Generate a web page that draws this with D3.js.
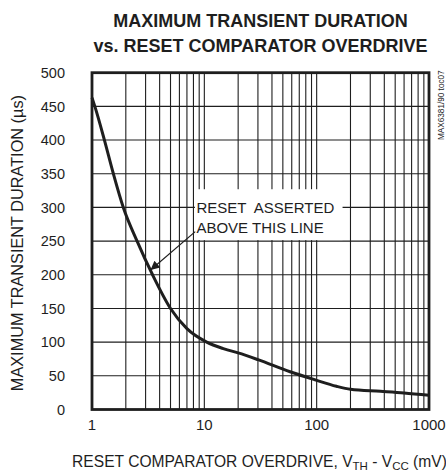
<!DOCTYPE html>
<html><head><meta charset="utf-8">
<script src="https://cdn.jsdelivr.net/npm/d3@7"></script>
<style>body{margin:0;background:#fff}svg{display:block}</style>
</head><body><svg id="c" width="446" height="470"></svg>
<script>
// ---- data ----
const overdrive = [1, 1.06, 1.29, 1.55, 1.9, 2.52, 3.46, 5, 7, 10.5, 15, 20, 30, 58, 97, 150, 200, 370, 600, 1000];
const duration  = [463, 450, 400, 350, 300, 250, 200, 150, 120, 100, 90, 84, 74, 56, 44, 34.5, 30, 27, 24.5, 21];
const xTicks = [1, 10, 100, 1000];
const yTicks = [0, 50, 100, 150, 200, 250, 300, 350, 400, 450, 500];
const titleLines = ["MAXIMUM TRANSIENT DURATION", "vs. RESET COMPARATOR OVERDRIVE"];
const yTitle = "MAXIMUM TRANSIENT DURATION (µs)";
const noteLines = ["RESET  ASSERTED", "ABOVE THIS LINE"];
const watermark = "MAX6381/90 toc07";

// ---- layout ----
const L = 92, R = 429, T = 72.7, B = 409.5;
const svg = d3.select("#c");
const FONT = "'Liberation Sans', Arial, Helvetica, sans-serif";
const ink = "#1e1e1e";

const x = d3.scaleLog().domain([1, 1000]).range([L, R]);
const y = d3.scaleLinear().domain([0, 500]).range([B, T]);

// grid
const minor = [];
for (let d = 1; d < 1000; d *= 10) for (let k = 1; k < 10; k++) minor.push(k * d);
minor.push(1000);
const g = svg.append("g").attr("stroke", ink).attr("stroke-width", 1.1);
g.selectAll("line.v").data(minor).join("line").attr("class", "v")
  .attr("x1", d => x(d)).attr("x2", d => x(d)).attr("y1", T).attr("y2", B);
g.selectAll("line.h").data(yTicks).join("line").attr("class", "h")
  .attr("x1", L).attr("x2", R).attr("y1", d => y(d)).attr("y2", d => y(d));

// annotation box (white, hides grid)
svg.append("rect").attr("x", x(8.25)).attr("y", y(327)).attr("width", x(170) - x(8.25))
  .attr("height", y(250) - y(327) - 1).attr("fill", "#fff");

// frame
svg.append("rect").attr("x", L).attr("y", T).attr("width", R - L).attr("height", B - T)
  .attr("fill", "none").attr("stroke", ink).attr("stroke-width", 2.8);

// curve
const line = d3.line().x((d, i) => x(overdrive[i])).y(d => y(d)).curve(d3.curveMonotoneX);
svg.append("path").datum(duration).attr("d", line).attr("fill", "none")
  .attr("stroke", ink).attr("stroke-width", 3).attr("stroke-linejoin", "round");

// axes tick labels
svg.append("g").selectAll("text").data(yTicks).join("text")
  .attr("x", 65).attr("y", d => y(d) + 5.3).attr("text-anchor", "end")
  .attr("font-family", FONT).attr("font-size", 14.5).attr("fill", ink).text(d => d);
svg.append("g").selectAll("text").data(xTicks).join("text")
  .attr("x", d => x(d)).attr("y", 430).attr("text-anchor", "middle")
  .attr("font-family", FONT).attr("font-size", 15).attr("fill", ink).text(d => d);

// title
svg.append("g").selectAll("text").data(titleLines).join("text")
  .attr("x", (L + R) / 2).attr("y", (d, i) => 26.5 + i * 25.5).attr("text-anchor", "middle")
  .attr("font-family", FONT).attr("font-weight", "bold").attr("font-size", 18).attr("fill", ink)
  .text(d => d);

// y title
svg.append("text").attr("transform", `translate(23,${(T + B) / 2 + 2}) rotate(-90)`)
  .attr("text-anchor", "middle").attr("font-family", FONT).attr("font-size", 16.3)
  .attr("fill", ink).text(yTitle);

// x title with subscripts
const xt = svg.append("text").attr("x", (L + R) / 2 - 1).attr("y", 466.5).attr("text-anchor", "middle")
  .attr("font-family", FONT).attr("font-size", 15.6).attr("fill", ink);
xt.append("tspan").text("RESET COMPARATOR OVERDRIVE, V");
xt.append("tspan").attr("font-size", 11.5).attr("dy", 3).text("TH");
xt.append("tspan").attr("dy", -3).text(" - V");
xt.append("tspan").attr("font-size", 11.5).attr("dy", 3).text("CC");
xt.append("tspan").attr("dy", -3).text(" (mV)");

// annotation text
svg.append("g").selectAll("text").data(noteLines).join("text")
  .attr("x", x(8.5)).attr("y", (d, i) => y(300) + 5.5 + i * 20)
  .attr("font-family", FONT).attr("font-size", 15).attr("fill", ink)
  .attr("xml:space", "preserve").style("white-space", "pre").text(d => d);

// arrow
const defs = svg.append("defs");
defs.append("marker").attr("id", "ah").attr("viewBox", "0 0 10 10").attr("refX", 10).attr("refY", 5)
  .attr("markerWidth", 14).attr("markerHeight", 9).attr("markerUnits", "userSpaceOnUse")
  .attr("orient", "auto").append("path").attr("d", "M0,0 L10,5 L0,10 Z").attr("fill", ink);
svg.append("line").attr("x1", x(8.3)).attr("y1", y(264)).attr("x2", x(3.32)).attr("y2", y(207))
  .attr("stroke", ink).attr("stroke-width", 1.2).attr("marker-end", "url(#ah)");

// watermark
svg.append("text").attr("transform", "translate(444,140) rotate(-90)")
  .attr("font-family", FONT).attr("font-size", 8.2).attr("fill", ink).text(watermark);
</script></body></html>
